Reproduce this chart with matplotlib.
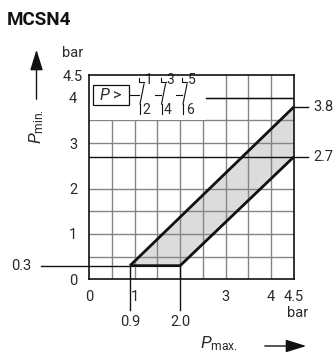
import matplotlib
matplotlib.use("Agg")
import matplotlib.pyplot as plt
from matplotlib.patches import Rectangle, Polygon, FancyArrowPatch

plt.rcParams['font.family'] = ['Roboto', 'DejaVu Sans']
plt.rcParams['mathtext.fontset'] = 'custom'
plt.rcParams['mathtext.rm'] = 'Roboto'
plt.rcParams['mathtext.it'] = 'Roboto:italic'

# ---- data -------------------------------------------------------------
title = "MCSN4"
unit = "bar"
x_ticks = [0, 1, 3, 4, 4.5]
x_ticklabels = ["0", "1", "3", "4", "4.5"]
y_ticks = [0, 1, 2, 3, 4, 4.5]
y_ticklabels = ["0", "1", "2", "3", "4", "4.5"]

# operating range of P_min. over P_max.
p_max_low = 0.9        # start of range
p_max_knee = 2.0       # end of flat lower edge
p_max_end = 4.5
p_min_floor = 0.3
p_min_upper_end = 3.8
p_min_lower_end = 2.7

upper_x = [p_max_low, p_max_end]
upper_y = [p_min_floor, p_min_upper_end]
lower_x = [p_max_low, p_max_knee, p_max_end]
lower_y = [p_min_floor, p_min_floor, p_min_lower_end]

grid_x = [0.5, 1.0, 1.5, 2.0, 2.5, 3.0, 3.5, 4.0]
grid_y = [0.5, 1.0, 1.5, 2.0, 3.0, 3.5, 4.0]

# ---- figure ----------------------------------------------------------
W, H = 336, 361
fig = plt.figure(figsize=(W / 100, H / 100), dpi=100)
ax = fig.add_axes([89 / W, 1 - 279.3 / H, 205 / W, 204.3 / H])
ax.set_xlim(0, 4.5)
ax.set_ylim(0, 4.5)

txt = '#2a2a2a'
grid_c = '#858585'
fs = 10.5

for gx in grid_x:
    ax.axvline(gx, color=grid_c, lw=1.0, zorder=1)
for gy in grid_y:
    ax.axhline(gy, color=grid_c, lw=1.0, zorder=1)

# shaded band
band = Polygon(list(zip(upper_x, upper_y)) + list(zip(lower_x, lower_y))[::-1],
               closed=True, facecolor='#dcdcdc', edgecolor='none', zorder=0.5)
ax.add_patch(band)
ax.plot(upper_x, upper_y, color='#111111', lw=2.0, zorder=4, solid_capstyle='butt')
ax.plot(lower_x, lower_y, color='#111111', lw=2.0, zorder=4, solid_capstyle='butt')

# reference lines for the marked values
ax.plot([-1.06, p_max_low], [p_min_floor, p_min_floor], color='#111111', lw=1.0,
        clip_on=False, zorder=3)
ax.plot([0, 4.8], [p_min_lower_end, p_min_lower_end], color='#111111', lw=1.0,
        clip_on=False, zorder=3)
ax.plot([4.5, 4.8], [p_min_upper_end, p_min_upper_end], color='#111111', lw=1.0,
        clip_on=False, zorder=3)
for vx in (p_max_low, p_max_knee):
    ax.plot([vx, vx], [p_min_floor, -0.68], color='#111111', lw=1.0,
            clip_on=False, zorder=3)

ax.text(-1.26, p_min_floor, "0.3", ha='right', va='center', fontsize=fs, color=txt)
ax.text(4.92, p_min_upper_end, "3.8", ha='left', va='center', fontsize=fs, color=txt)
ax.text(4.92, p_min_lower_end, "2.7", ha='left', va='center', fontsize=fs, color=txt)
ax.text(p_max_low, -0.95, "0.9", ha='center', va='center', fontsize=fs, color=txt)
ax.text(p_max_knee, -0.95, "2.0", ha='center', va='center', fontsize=fs, color=txt)

# legend area with switch symbol
ax.add_patch(Rectangle((0, 3.5), 2.57, 1.0, facecolor='white', edgecolor='none', zorder=2))
ax.plot([2.57, 4.5], [4.0, 4.0], color='#111111', lw=1.0, zorder=3)

def px(x):
    return (x - 89) / 45.55

def py(y):
    return (279.3 - y) / 45.4

ax.add_patch(Rectangle((px(93), py(105)), px(129) - px(93), py(85) - py(105),
                       facecolor='white', edgecolor='#111111', lw=0.9, zorder=5))
ax.text(px(111), py(95.5), r"$\mathit{P}$ >", ha='center', va='center',
        fontsize=11.5, color=txt, zorder=6)
for k in range(3):
    xk = 143 + 21.5 * k
    ax.plot([px(xk - 10 if k else 129), px(xk - 4)], [py(95), py(95)],
            color='#111111', lw=0.8, zorder=5)
for k, (top, bot) in enumerate([("1", "2"), ("3", "4"), ("5", "6")]):
    xk = 143 + 21.5 * k
    ax.plot([px(xk - 4), px(xk - 4), px(xk + 1)], [py(78), py(82), py(82)],
            color='#111111', lw=0.8, zorder=5)
    ax.plot([px(xk - 3), px(xk + 1)], [py(104), py(84)], color='#111111', lw=0.8, zorder=5)
    ax.plot([px(xk - 3), px(xk - 3)], [py(104), py(114)], color='#111111', lw=0.8, zorder=5)
    ax.text(px(xk + 5.5), py(80.5), top, ha='center', va='center', fontsize=10,
            color=txt, zorder=6)
    ax.text(px(xk + 3.5), py(109.5), bot, ha='center', va='center', fontsize=10,
            color=txt, zorder=6)

# axes frame and ticks
for s in ax.spines.values():
    s.set_color('#111111')
    s.set_linewidth(1.2)
    s.set_zorder(7)
ax.set_xticks(x_ticks, x_ticklabels)
ax.set_yticks(y_ticks, y_ticklabels)
ax.tick_params(length=0, labelsize=fs, colors=txt)
ax.tick_params(axis='x', pad=7.5)
ax.tick_params(axis='y', pad=11.5)
for lab in ax.get_yticklabels():
    lab.set_horizontalalignment('center')

# unit labels
ax.text(-0.35, 4.98, unit, ha='center', va='center', fontsize=fs, color=txt,
        clip_on=False)
ax.text(4.57, -0.75, unit, ha='center', va='center', fontsize=fs, color=txt,
        clip_on=False)

# axis titles and arrows
fig.text(37 / W, 1 - 126 / H, r"$\mathit{P}_{\mathrm{min.}}$", rotation=90,
         ha='center', va='center', fontsize=12.5, color=txt)
fig.text(219 / W, 1 - 344 / H, r"$\mathit{P}_{\mathrm{max.}}$",
         ha='center', va='center', fontsize=12.5, color=txt)
arrow_kw = dict(arrowstyle='-|>,head_length=0.9,head_width=0.28', color='#111111', lw=1.0)
fig.add_artist(FancyArrowPatch((36.5, H - 102), (36.5, H - 47),
               transform=None, mutation_scale=14, **arrow_kw))
fig.add_artist(FancyArrowPatch((262, H - 346), (309, H - 346),
               transform=None, mutation_scale=14, **arrow_kw))

fig.text(7 / W, 1 - 25 / H, title, ha='left', va='baseline', fontsize=13.5,
         fontweight='bold', color='#111111')

fig.savefig("out.png", dpi=100)
